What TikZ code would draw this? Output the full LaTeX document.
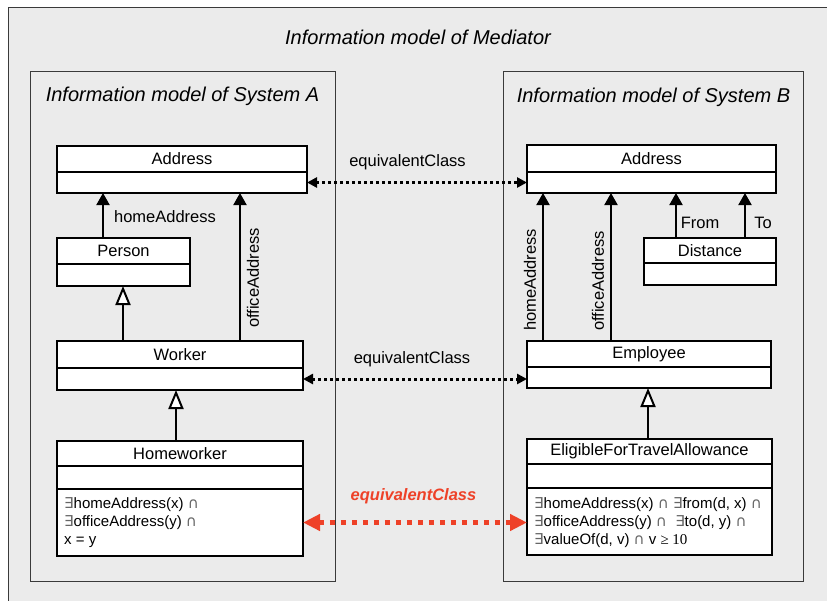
\documentclass[tikz,border=0pt]{standalone}
\usepackage{fontspec}
\setmainfont{Liberation Sans}
\newfontfamily\dvs{DejaVu Sans}
\newfontfamily\lser{Liberation Serif}
\usetikzlibrary{arrows.meta,fit}
\definecolor{bggray}{HTML}{EBEBEB}
\definecolor{framegray}{HTML}{3A3A3A}
\definecolor{eqred}{HTML}{EE4128}
\newcommand\exq{{\dvs\color{black!60}∃}}
\newcommand\icap{{\dvs\color{black!60}\fontsize{15}{15}\selectfont ∩}}
\newcommand\umlcls[7]{%
  \node[clsbox, fit={(#2,#3)(#4,#5)}] (#1) {};
  \node[helper, fit={(#2,#3)(#4,#6)}] (#1-t) {};
  \node[helper, fit={(#2,#6)(#4,#5)}] (#1-a) {};
  \node[clsfont] at (#1-t.center) {#7};
  \draw[boxline] (#1-a.north west) -- (#1-a.north east);
}
\newcommand\umlclsc[8]{%
  \umlcls{#1}{#2}{#3}{#4}{#5}{#6}{#8}%
  \node[helper, fit={(#2,#7)(#4,#5)}] (#1-c) {};
  \draw[boxline] (#1-c.north west) -- (#1-c.north east);
}
\tikzset{
  helper/.style={inner sep=0pt, outer sep=0pt, draw=none},
  clsbox/.style={inner sep=0pt, outer sep=0pt, draw=black, line width=2pt, fill=white},
  boxline/.style={draw=black, line width=2pt},
  clsfont/.style={font=\fontsize{16.5}{19}\selectfont, inner sep=0pt},
  lbl/.style={font=\fontsize{16.5}{19}\selectfont, inner sep=0pt},
  ttl/.style={font=\fontsize{20}{24}\selectfont\itshape, inner sep=0pt},
  frame/.style={draw=framegray, line width=1pt, fill=bggray},
  assoc/.style={draw=black, line width=2pt, -{Triangle[length=12pt,width=13pt]}},
  gen/.style={draw=black, line width=2pt, -{Triangle[length=19pt,width=15pt,fill=white]}},
  eqv/.style={draw=black, line width=3pt, dash pattern=on 3pt off 3pt,
    {Triangle[length=10pt,width=10pt]}-{Triangle[length=10pt,width=10pt]}},
  eqvred/.style={draw=eqred, line width=5pt, dash pattern=on 5pt off 6pt,
    {Triangle[length=17pt,width=16pt]}-{Triangle[length=17pt,width=16pt]}},
  body/.style={font=\fontsize{15}{18}\selectfont, align=left, anchor=west, inner sep=0pt},
}
\begin{document}
\begin{tikzpicture}[x=1pt, y=-1pt]
\useasboundingbox (0,0) rectangle (827,600);
% outer mediator frame
\fill[bggray] (8,7) rectangle (830,603);
\draw[framegray, line width=1pt] (8,603) -- (8,7) -- (830,7);
\node[ttl] (tmed) at (418,37) {Information model of Mediator};
% system frames
\draw[frame] (30,71) rectangle (335,581);
\draw[frame] (503,71) rectangle (803,581);
\node[ttl] (ta) at (182.5,96) {Information model of System A};
\node[ttl] (tb) at (653.5,97) {Information model of System B};

% System A classes
\umlcls{addrA}{57}{146}{307}{193}{172}{Address}
\umlcls{person}{57}{238}{190}{286}{264}{Person}
\umlcls{worker}{57}{341}{303}{390}{368}{Worker}
\umlclsc{hw}{57}{441}{303}{556}{466}{489}{Homeworker}
\node[body] (hwtext) at (64,523) {\exq homeAddress(x) \icap\\ \exq officeAddress(y) \icap\\ x = y};

% System B classes
\umlcls{addrB}{527}{145}{776}{193}{172}{Address}
\umlcls{dist}{644}{238}{776}{285}{263}{Distance}
\umlcls{emp}{527}{341}{771}{388}{367}{Employee}
\umlclsc{efta}{527}{439}{772}{555}{464}{488}{EligibleForTravelAllowance}
\node[body] (eftatext) at (534,523) {\exq homeAddress(x) \icap\ \exq from(d, x) \icap\\ \exq officeAddress(y) \icap\ \ \exq to(d, y) \icap\\ \exq valueOf(d, v) \icap\ v {\lser ≥ 10}};

% System A connectors
\draw[assoc] (person.north -| 103,0) -- (addrA.south -| 103,0);
\node[lbl] (lha) at (165,217) {homeAddress};
\draw[assoc] (worker.north -| 240,0) -- (addrA.south -| 240,0);
\node[lbl, rotate=90] (loa) at (253,278) {officeAddress};
\draw[gen] (worker.north -| 123,0) -- (person.south -| 123,0);
\draw[gen] (hw.north -| 176,0) -- (worker.south -| 176,0);

% System B connectors
\draw[assoc] (emp.north -| 543,0) -- (addrB.south -| 543,0);
\node[lbl, rotate=90] (lhb) at (530,280) {homeAddress};
\draw[assoc] (emp.north -| 611,0) -- (addrB.south -| 611,0);
\node[lbl, rotate=90] (lob) at (598,281) {officeAddress};
\draw[assoc] (dist.north -| 676,0) -- (addrB.south -| 676,0);
\node[lbl] (lfrom) at (700,223) {From};
\draw[assoc] (dist.north -| 745,0) -- (addrB.south -| 745,0);
\node[lbl] (lto) at (763,223) {To};
\draw[gen] (efta.north -| 648,0) -- (emp.south -| 648,0);

% equivalences
\draw[eqv] (addrA-a.east) -- (addrB-a.west |- addrA-a.east);
\node[lbl] (le1) at (407.5,162) {equivalentClass};
\draw[eqv] (worker-a.east) -- (emp-a.west |- worker-a.east);
\node[lbl] (le2) at (412,359) {equivalentClass};
\draw[eqvred] (hw-c.east) -- (efta-c.west |- hw-c.east);
\node[lbl, text=eqred, font=\fontsize{16.5}{19}\selectfont\bfseries\itshape] (le3) at (413.5,496) {equivalentClass};
\end{tikzpicture}
\end{document}
